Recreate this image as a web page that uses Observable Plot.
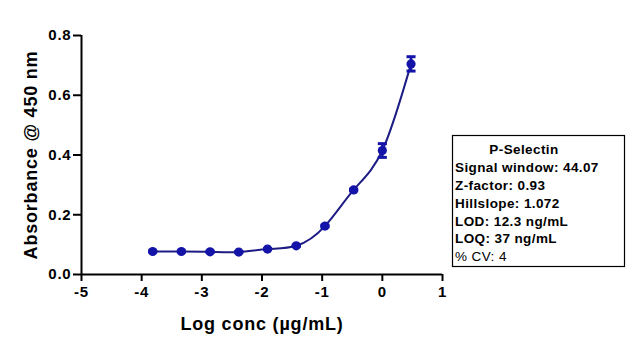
<!DOCTYPE html>
<html>
<head>
<meta charset="utf-8">
<script src="https://cdn.jsdelivr.net/npm/d3@7"></script>
<script src="https://cdn.jsdelivr.net/npm/@observablehq/plot@0.6"></script>
<style>
  html, body { margin: 0; padding: 0; background: #fff; }
  #chart svg { font-family: "Liberation Sans", Arial, sans-serif; display: block; }
</style>
</head>
<body>
<div id="chart"></div>
<script>
// Data
const logConc = [-3.817, -3.340, -2.863, -2.386, -1.908, -1.431, -0.954, -0.477, 0.0, 0.477];
const absorbance = [0.077, 0.077, 0.076, 0.075, 0.085, 0.096, 0.162, 0.283, 0.415, 0.705];
const errorSD = [0.002, 0.002, 0.002, 0.002, 0.002, 0.002, 0.003, 0.003, 0.023, 0.024];
const xTicks = [-5, -4, -3, -2, -1, 0, 1];
const yTicks = [0.0, 0.2, 0.4, 0.6, 0.8];
const xTitle = "Log conc (µg/mL)";
const yTitle = "Absorbance @ 450 nm";
const legendTitle = "P-Selectin";
const legendLines = ["Signal window: 44.07", "Z-factor: 0.93", "Hillslope: 1.072", "LOD: 12.3 ng/mL", "LOQ: 37 ng/mL", "% CV: 4"];

const data = logConc.map((x, i) => ({x, y: absorbance[i], e: errorSD[i]}));

const dotColor = "#1414a8";
const lineColor = "#1c1c84";

const capSymbol = {
  draw(context, size) {
    const w = Math.sqrt(size);
    context.moveTo(-w / 2, 0);
    context.lineTo(w / 2, 0);
  }
};

const svg = Plot.plot({
  width: 635,
  height: 343,
  marginLeft: 81,
  marginRight: 193,
  marginTop: 35,
  marginBottom: 69,
  style: {background: "#fff", color: "#000", fontFamily: "Liberation Sans, Arial, sans-serif"},
  x: {domain: [-5, 1], ticks: xTicks},
  y: {domain: [0, 0.8], ticks: yTicks},
  marks: [
    Plot.axisX({ticks: xTicks, tickSize: 7, tickPadding: 5, strokeWidth: 2, fontSize: 15, fontWeight: "bold",
      tickFormat: d => String(d), label: null, stroke: "#000", fill: "#000"}),
    Plot.axisY({ticks: yTicks, tickSize: 8, tickPadding: 2, strokeWidth: 2, fontSize: 15, fontWeight: "bold",
      tickFormat: d3.format(".1f"), label: null, stroke: "#000", fill: "#000"}),
    Plot.ruleY([0], {stroke: "#000", strokeWidth: 2}),
    Plot.ruleX([-5], {stroke: "#000", strokeWidth: 2}),
    Plot.line(data, {x: "x", y: "y", curve: "natural", stroke: lineColor, strokeWidth: 2}),
    Plot.ruleX(data, {x: "x", y1: d => d.y - d.e, y2: d => d.y + d.e, stroke: dotColor, strokeWidth: 2.5}),
    Plot.dot(data, {x: "x", y: "y", r: 4.6, fill: dotColor, stroke: "none"}),
    Plot.dot(data, {x: "x", y: d => d.y + d.e, symbol: capSymbol, r: 5.1, fill: "none", stroke: dotColor, strokeWidth: 3}),
    Plot.dot(data, {x: "x", y: d => d.y - d.e, symbol: capSymbol, r: 5.1, fill: "none", stroke: dotColor, strokeWidth: 3}),
    Plot.text([xTitle], {frameAnchor: "bottom", dy: 50, fontSize: 18, fontWeight: "bold", fill: "#000", lineAnchor: "middle", textAnchor: "middle"}),
    Plot.text([yTitle], {frameAnchor: "left", dx: -50, rotate: -90, fontSize: 18, fontWeight: "bold", fill: "#000", lineAnchor: "middle", textAnchor: "middle"})
  ]
});

d3.select(svg).selectAll("text").style("letter-spacing", "0.8px");

// Annotation box
const g = d3.select(svg).append("g").attr("font-family", "Liberation Sans, Arial, sans-serif").attr("fill", "#000");
g.append("rect").attr("x", 452.5).attr("y", 135.5).attr("width", 172).attr("height", 131)
  .attr("fill", "#fff").attr("stroke", "#000").attr("stroke-width", 1.2);
g.append("text").attr("x", 524).attr("y", 154).attr("text-anchor", "middle")
  .attr("font-size", 13.5).attr("font-weight", "bold").style("letter-spacing", "0.4px").text(legendTitle);
legendLines.forEach((t, i) => {
  g.append("text").attr("x", 455).attr("y", 172.3 + i * 17.75).attr("text-anchor", "start")
    .attr("font-size", 13.5).attr("font-weight", i < legendLines.length - 1 ? "bold" : "normal")
    .style("letter-spacing", "0.4px").text(t);
});

document.getElementById("chart").appendChild(svg);
</script>
</body>
</html>
